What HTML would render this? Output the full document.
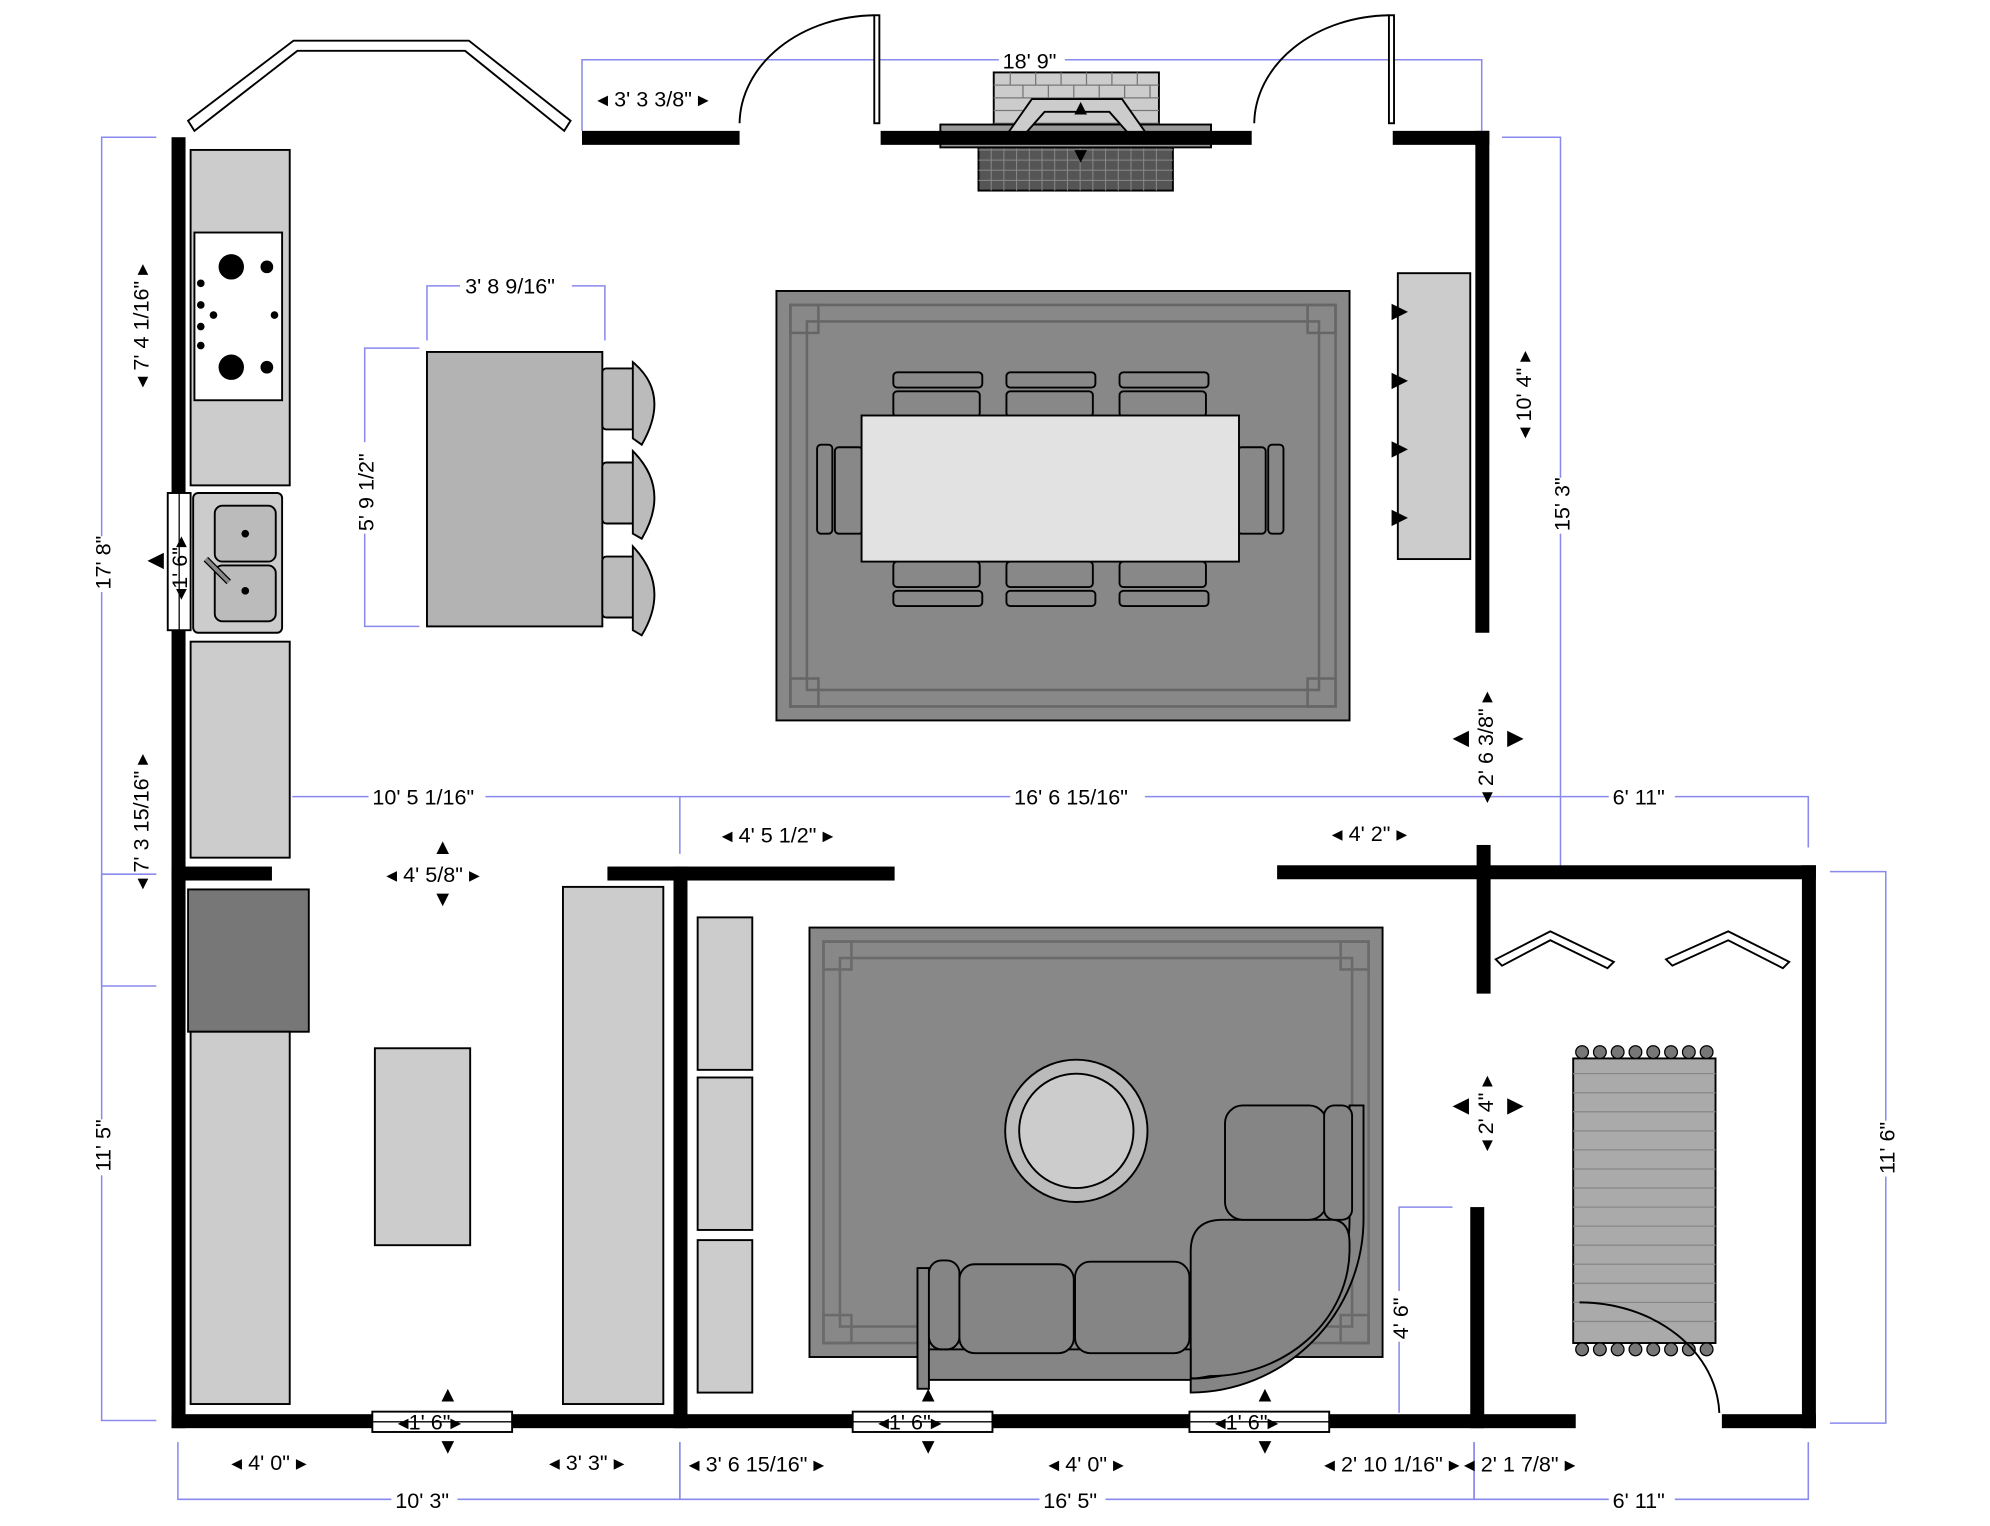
<!DOCTYPE html>
<html><head><meta charset="utf-8"><style>
html,body{margin:0;padding:0;background:#fff;}
svg{display:block;}
text{font-family:"Liberation Sans",sans-serif;font-size:17px;fill:#000;}
.d{stroke:#8a8aee;stroke-width:1.2;fill:none;}
.w{fill:#000;}
.o{stroke:#000;stroke-width:1.5;}
</style></head><body>
<svg width="1990" height="1526" viewBox="0 0 1566 1201" preserveAspectRatio="none" xmlns="http://www.w3.org/2000/svg">
<g class="d">
<path d="M123 108H80V776H123"/><path d="M123 688H80V1118H123"/>
<path d="M458 103V47H1166V103"/>
<path d="M1182 108H1228V686H1182"/>
<path d="M330 274H287V493H330"/><path d="M336 268V225H476V268"/>
<path d="M230 627H535V672"/><path d="M535 627H1423V667"/>
<path d="M1440 686H1484V1120H1440"/>
<path d="M1143 950H1101V1112"/>
<path d="M140 1135V1180H535V1135"/><path d="M535 1135V1180H1160V1135"/><path d="M1160 1135V1180H1423V1135"/>
</g>
<g>
<rect x="786" y="38" width="52" height="18" fill="#fff"/><text x="789" y="54">18' 9"</text>
<text x="470" y="84">◂ 3' 3 3/8" ▸</text>
<rect x="362" y="215" width="88" height="18" fill="#fff"/><text x="366" y="231">3' 8 9/16"</text>
<rect x="290" y="618" width="92" height="18" fill="#fff"/><text x="293" y="633">10' 5 1/16"</text>
<rect x="795" y="618" width="106" height="18" fill="#fff"/><text x="798" y="633">16' 6 15/16"</text>
<rect x="1266" y="618" width="52" height="18" fill="#fff"/><text x="1269" y="633">6' 11"</text>
<text x="568" y="663">◂ 4' 5 1/2" ▸</text>
<text x="1048" y="662">◂ 4' 2" ▸</text>
<text x="304" y="694">◂ 4' 5/8" ▸</text>
<text x="340" y="672" font-size="10">▲</text><text x="340" y="713" font-size="10">▼</text>
<text x="182" y="1157">◂ 4' 0" ▸</text>
<text x="432" y="1157">◂ 3' 3" ▸</text>
<text x="542" y="1158">◂ 3' 6 15/16" ▸</text>
<text x="825" y="1158">◂ 4' 0" ▸</text>
<text x="1042" y="1158">◂ 2' 10 1/16" ▸</text>
<text x="1152" y="1158">◂ 2' 1 7/8" ▸</text>
<rect x="308" y="1171" width="52" height="18" fill="#fff"/><text x="311" y="1187">10' 3"</text>
<rect x="818" y="1171" width="52" height="18" fill="#fff"/><text x="821" y="1187">16' 5"</text>
<rect x="1266" y="1171" width="52" height="18" fill="#fff"/><text x="1269" y="1187">6' 11"</text>
<g transform="rotate(-90)">
<text x="-305" y="117">◂ 7' 4 1/16" ▸</text>
<rect x="-466" y="71" width="44" height="18" fill="#fff"/><text x="-464" y="87">17' 8"</text>
<text x="-700" y="117">◂ 7' 3 15/16" ▸</text>
<rect x="-925" y="71" width="44" height="18" fill="#fff"/><text x="-922" y="87">11' 5"</text>
<rect x="-420" y="278" width="72" height="18" fill="#fff"/><text x="-418" y="294">5' 9 1/2"</text>
<text x="-345" y="1205">◂ 10' 4" ▸</text>
<rect x="-420" y="1219" width="44" height="18" fill="#fff"/><text x="-418" y="1235">15' 3"</text>
<text x="-632" y="1175">◂ 2' 6 3/8" ▸</text>
<text x="-906" y="1175">◂ 2' 4" ▸</text>
<rect x="-1056" y="1092" width="40" height="18" fill="#fff"/><text x="-1054" y="1108">4' 6"</text>
<rect x="-926" y="1475" width="44" height="18" fill="#fff"/><text x="-924" y="1491">11' 6"</text>
</g>
<text x="1143" y="586" font-size="10">◀</text><text x="1186" y="586" font-size="10">▶</text>
<text x="1143" y="875" font-size="10">◀</text><text x="1186" y="875" font-size="10">▶</text>
</g>
<polygon points="148,95 231,32 369,32 449,95 444,103 366,40 234,40 153,103" fill="#fff" class="o"/>
<g fill="none" stroke="#000" stroke-width="1.5">
<rect x="688" y="12" width="4" height="85" fill="#fff"/><path d="M582 97A108 86 0 0 1 688 12"/>
<rect x="1093" y="12" width="4" height="85" fill="#fff"/><path d="M987 97A108 86 0 0 1 1093 12"/>
</g>
<rect x="782" y="57" width="130" height="58" fill="#ccc" class="o"/>
<g stroke="#777" stroke-width="1"><path d="M782 67H912M782 77H912M782 87H912M782 97H912"/>
<path d="M795 57V67M815 57V67M835 57V67M855 57V67M875 57V67M895 57V67M805 67V77M825 67V77M845 67V77M865 67V77M885 67V77M905 67V77"/></g>
<rect x="770" y="110" width="153" height="40" fill="#555" class="o"/>
<g stroke="#888" stroke-width="0.8"><path d="M770 118H923M770 126H923M770 134H923M770 142H923"/>
<path d="M780 110V150M790 110V150M800 110V150M810 110V150M820 110V150M830 110V150M840 110V150M850 110V150M860 110V150M870 110V150M880 110V150M890 110V150M900 110V150M910 110V150"/></g>
<rect x="740" y="98" width="213" height="18" fill="#999" class="o"/>
<polygon points="793,105 812,78 883,78 902,105 888,105 873,88 822,88 807,105" fill="#ccc" class="o"/>
<text x="842" y="90" font-size="10">▲</text><text x="842" y="128" font-size="10">▼</text>
<g class="w">
<rect x="135" y="108" width="11" height="1016"/>
<rect x="458" y="103" width="124" height="11"/>
<rect x="693" y="103" width="292" height="11"/>
<rect x="1096" y="103" width="76" height="11"/>
<rect x="1161" y="103" width="11" height="395"/>
<rect x="135" y="682" width="79" height="11"/>
<rect x="478" y="682" width="226" height="11"/>
<rect x="1005" y="681" width="424" height="11"/>
<rect x="530" y="682" width="11" height="442"/>
<rect x="1162" y="665" width="11" height="117"/>
<rect x="1157" y="950" width="11" height="174"/>
<rect x="1418" y="681" width="11" height="443"/>
<rect x="135" y="1113" width="1105" height="11"/>
<rect x="1355" y="1113" width="74" height="11"/>
</g>
<g fill="#fff" class="o">
<rect x="132" y="388" width="18" height="108"/>
<rect x="293" y="1111" width="110" height="16"/>
<rect x="671" y="1111" width="110" height="16"/>
<rect x="936" y="1111" width="110" height="16"/>
</g>
<g stroke="#000"><path d="M141 388V496M293 1119H403M671 1119H781M936 1119H1046"/></g>
<g transform="rotate(-90)"><text x="-472" y="147" font-size="16">◂1' 6"▸</text></g>
<text x="313" y="1125" font-size="16">◂1' 6"▸</text>
<text x="691" y="1125" font-size="16">◂1' 6"▸</text>
<text x="956" y="1125" font-size="16">◂1' 6"▸</text>
<text x="344" y="1103" font-size="10">▲</text><text x="344" y="1144" font-size="10">▼</text>
<text x="722" y="1103" font-size="10">▲</text><text x="722" y="1144" font-size="10">▼</text>
<text x="987" y="1103" font-size="10">▲</text><text x="987" y="1144" font-size="10">▼</text>
<text x="116" y="446" font-size="10">◀</text>
<g class="o">
<rect x="150" y="118" width="78" height="264" fill="#ccc"/>
<rect x="153" y="183" width="69" height="132" fill="#fff"/>
<rect x="152" y="388" width="70" height="110" fill="#ccc" rx="4"/>
<rect x="169" y="398" width="48" height="44" rx="6" fill="#bbb"/><rect x="169" y="445" width="48" height="44" rx="6" fill="#bbb"/>
<rect x="150" y="505" width="78" height="170" fill="#ccc"/>
<rect x="148" y="700" width="95" height="112" fill="#777"/>
<rect x="150" y="812" width="78" height="293" fill="#ccc"/>
<rect x="295" y="825" width="75" height="155" fill="#ccc"/>
<rect x="443" y="698" width="79" height="407" fill="#ccc"/>
<rect x="336" y="277" width="138" height="216" fill="#b3b3b3"/>
</g>
<g fill="#000"><circle cx="182" cy="210" r="10"/><circle cx="182" cy="289" r="10"/><circle cx="210" cy="210" r="5"/><circle cx="210" cy="289" r="5"/><circle cx="193" cy="420" r="3"/><circle cx="193" cy="465" r="3"/><circle cx="158" cy="223" r="3"/><circle cx="158" cy="240" r="3"/><circle cx="158" cy="257" r="3"/><circle cx="158" cy="272" r="3"/><circle cx="168" cy="248" r="3"/><circle cx="216" cy="248" r="3"/></g>
<path d="M162 440L180 458" stroke="#000" stroke-width="5"/><path d="M162 440L180 458" stroke="#888" stroke-width="3"/>
<g class="o" fill="#bbb">
<rect x="474" y="290" width="26" height="48" rx="3"/><rect x="474" y="364" width="26" height="48" rx="3"/><rect x="474" y="438" width="26" height="48" rx="3"/>
<path d="M498 285Q528 310 505 350L498 345Z"/><path d="M498 355Q528 385 505 424L498 420Z"/><path d="M498 430Q528 462 505 500L498 496Z"/>
</g>
<rect x="611" y="229" width="451" height="338" fill="#888" class="o"/>
<g fill="none" stroke="#666" stroke-width="2">
<rect x="622" y="240" width="429" height="316"/><rect x="635" y="253" width="403" height="290"/>
<rect x="622" y="240" width="22" height="22"/><rect x="1029" y="240" width="22" height="22"/><rect x="622" y="534" width="22" height="22"/><rect x="1029" y="534" width="22" height="22"/>
</g>
<g class="o" fill="#888">
<rect x="703" y="293" width="70" height="12" rx="3"/><rect x="792" y="293" width="70" height="12" rx="3"/><rect x="881" y="293" width="70" height="12" rx="3"/>
<rect x="703" y="308" width="68" height="20" rx="3"/><rect x="792" y="308" width="68" height="20" rx="3"/><rect x="881" y="308" width="68" height="20" rx="3"/>
<rect x="703" y="442" width="68" height="20" rx="3"/><rect x="792" y="442" width="68" height="20" rx="3"/><rect x="881" y="442" width="68" height="20" rx="3"/>
<rect x="703" y="465" width="70" height="12" rx="3"/><rect x="792" y="465" width="70" height="12" rx="3"/><rect x="881" y="465" width="70" height="12" rx="3"/>
<rect x="643" y="350" width="12" height="70" rx="3"/><rect x="657" y="352" width="22" height="68" rx="3"/>
<rect x="998" y="350" width="12" height="70" rx="3"/><rect x="974" y="352" width="22" height="68" rx="3"/>
</g>
<rect x="678" y="327" width="297" height="115" fill="#e2e2e2" class="o"/>
<rect x="1100" y="215" width="57" height="225" fill="#ccc" class="o"/>
<g font-size="8"><text x="1095" y="250">▶</text><text x="1095" y="304">▶</text><text x="1095" y="358">▶</text><text x="1095" y="412">▶</text></g>
<g class="o" fill="#ccc"><rect x="549" y="722" width="43" height="120"/><rect x="549" y="848" width="43" height="120"/><rect x="549" y="976" width="43" height="120"/></g>
<rect x="637" y="730" width="451" height="338" fill="#888" class="o"/>
<g fill="none" stroke="#6a6a6a" stroke-width="2">
<rect x="648" y="741" width="429" height="316"/><rect x="661" y="754" width="403" height="290"/>
<rect x="648" y="741" width="22" height="22"/><rect x="1055" y="741" width="22" height="22"/><rect x="648" y="1035" width="22" height="22"/><rect x="1055" y="1035" width="22" height="22"/>
</g>
<circle cx="847" cy="890" r="56" fill="#bbb" class="o"/><circle cx="847" cy="890" r="45" fill="#ccc" class="o"/>
<g class="o" fill="#858585">
<path d="M937 1080L937 1096A137 137 0 0 0 1073 960L1073 870L1062 870L1062 960A125 125 0 0 1 937 1085Z"/>
<path d="M937 1084L937 985Q937 960 962 960L1050 960Q1062 962 1062 978L1062 985A110 100 0 0 1 952 1083Q937 1086 937 1084Z"/>
<rect x="964" y="870" width="80" height="90" rx="14"/>
<rect x="1042" y="870" width="22" height="90" rx="8"/>
<rect x="729" y="1062" width="208" height="24"/>
<rect x="722" y="998" width="9" height="95"/>
<rect x="731" y="992" width="24" height="70" rx="10"/>
<rect x="755" y="995" width="90" height="70" rx="12"/>
<rect x="846" y="993" width="90" height="72" rx="12"/>
</g>
<g class="o" fill="#fff">
<polygon points="1177,755 1220,733 1270,757 1265,762 1220,740 1182,760"/>
<polygon points="1311,755 1360,733 1408,757 1403,762 1360,740 1316,760"/>
</g>
<rect x="1238" y="833" width="112" height="224" fill="#aaa" class="o"/>
<g stroke="#888" stroke-width="1"><path d="M1238 845H1350M1238 860H1350M1238 875H1350M1238 890H1350M1238 905H1350M1238 920H1350M1238 935H1350M1238 950H1350M1238 965H1350M1238 980H1350M1238 995H1350M1238 1010H1350M1238 1025H1350M1238 1040H1350"/></g>
<g fill="#777" stroke="#000" stroke-width="1">
<circle cx="1245" cy="828" r="5"/><circle cx="1259" cy="828" r="5"/><circle cx="1273" cy="828" r="5"/><circle cx="1287" cy="828" r="5"/><circle cx="1301" cy="828" r="5"/><circle cx="1315" cy="828" r="5"/><circle cx="1329" cy="828" r="5"/><circle cx="1343" cy="828" r="5"/>
<circle cx="1245" cy="1062" r="5"/><circle cx="1259" cy="1062" r="5"/><circle cx="1273" cy="1062" r="5"/><circle cx="1287" cy="1062" r="5"/><circle cx="1301" cy="1062" r="5"/><circle cx="1315" cy="1062" r="5"/><circle cx="1329" cy="1062" r="5"/><circle cx="1343" cy="1062" r="5"/>
</g>
<path d="M1243 1025A110 90 0 0 1 1353 1112" fill="none" stroke="#000" stroke-width="1.5"/>
</svg>
</body></html>
